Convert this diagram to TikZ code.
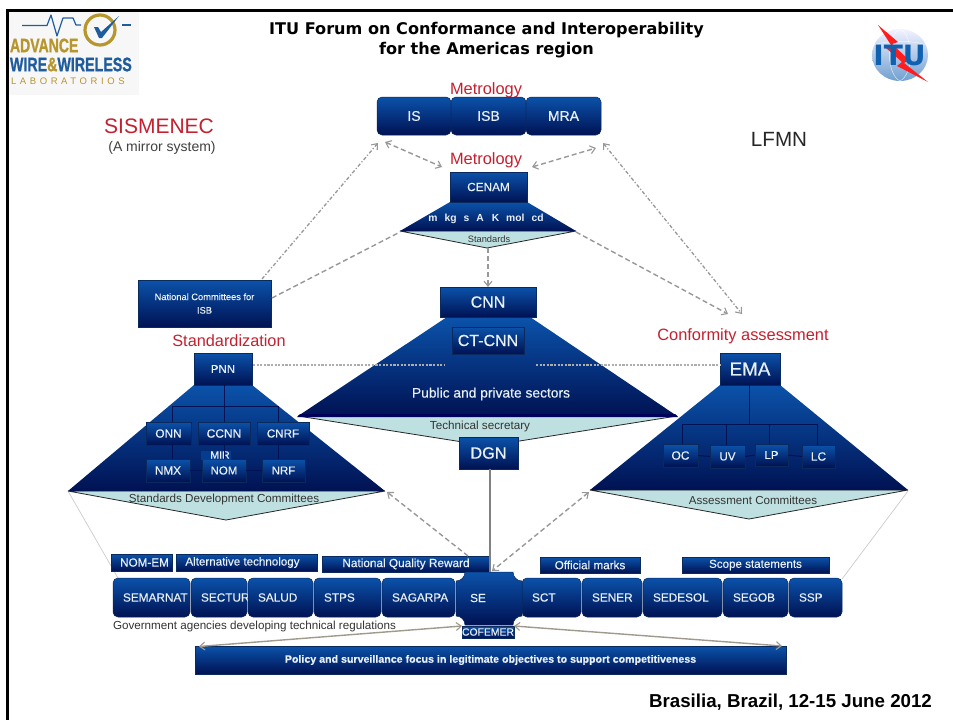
\documentclass[tikz,border=0pt]{standalone}
\usepackage{fontspec}
\setmainfont{Liberation Sans}
\newfontfamily\titlefont{DejaVu Sans}
\newfontfamily\labfont[LetterSpace=38]{Liberation Sans}
\newfontfamily\semifont[FakeBold=0.35]{Liberation Sans}
\newfontfamily\logofont[BoldFeatures={FakeBold=1.2}]{Liberation Sans}
\usetikzlibrary{arrows.meta,shadings}
\definecolor{bT}{HTML}{0B52AA}
\definecolor{bM}{HTML}{063C8E}
\definecolor{bB}{HTML}{001253}
\definecolor{edgeB}{HTML}{0A2A5E}
\definecolor{txtW}{HTML}{E8F0F8}
\definecolor{redL}{HTML}{C5202F}
\definecolor{tealL}{HTML}{BFE0E0}
\definecolor{conn}{HTML}{989898}
\definecolor{tan}{HTML}{A09A8C}
\definecolor{gold}{HTML}{B8962E}
\definecolor{logoB}{HTML}{1F5C9E}
\definecolor{ituB}{HTML}{1060B0}
\newcommand{\fz}[1]{\fontsize{#1}{#1}\selectfont}
\tikzset{
  x=1pt,y=-1pt,
  gshade/.style={top color=bT,middle color=bM,bottom color=bB},
  gb/.style={gshade,draw=edgeB,line width=.5pt,inner sep=0pt,text=txtW,align=center,outer sep=0pt,font=\semifont},
  rb/.style={gb,rounded corners=5pt},
  lab/.style={inner sep=0pt,outer sep=0pt,align=center},
  redlab/.style={lab,text=redL},
  darklab/.style={lab,text=black!80},
  dashc/.style={draw=conn,line width=1.4pt,dash pattern=on 5pt off 3pt},
  dotc/.style={draw=conn,line width=1.3pt,dash pattern=on 3.5pt off 2pt on 1.2pt off 2pt},
  finec/.style={draw=black!32,line width=1.3pt,dash pattern=on 2.2pt off 1.4pt},
  tipa/.style={-{Straight Barb[length=5pt,width=8pt,line width=1.1pt]}},
  tipb/.style={{Straight Barb[length=5pt,width=8pt,line width=1.1pt]}-{Straight Barb[length=5pt,width=8pt,line width=1.1pt]}},
  solidgov/.style={draw=tan,line width=1.4pt,tipb},
  thinl/.style={draw=black!20,line width=.7pt},
  org/.style={draw=bB,line width=1pt},
  pent/.style={fill=tealL,draw=black!85,line width=.8pt},
  trap/.style={gshade,draw=none},
}
% \gbox[style]{name}{x1}{y1}{x2}{y2}{font size}{text}
\newcommand{\gbox}[8][gb]{\pgfmathsetlengthmacro{\bw}{#5-(#3)}\pgfmathsetlengthmacro{\bh}{#6-(#4)}%
  \node[#1,minimum width=\bw,minimum height=\bh] (#2) at ({(#3+#5)/2},{(#4+#6)/2}) {\fz{#7}#8};}
% \rowbox{name}{x1}{x2}{text}: a row box with left-set text
\newcommand{\rowbox}[4]{\pgfmathsetlengthmacro{\bw}{#3-(#2)}%
  \node[rb,minimum width=\bw,minimum height=39pt] (#1) at ({(#2+#3)/2},597.5) {\makebox[\bw][l]{\hspace{10pt}\fz{11.8}#4}};}
% \pyramid{xTL}{xTR}{yT}{xBL}{xBR}{yB}{apex x}{apex y}
\newcommand{\pyramid}[8]{%
  \path[pent] (#4,#6) -- (#7,#8) -- (#5,#6) -- cycle;
  \path[trap] (#1,#3) -- (#2,#3) -- (#5,#6) -- (#4,#6) -- cycle;}
\begin{document}
\begin{tikzpicture}
\useasboundingbox (0,0) rectangle (953,720);
\fill[white] (0,0) rectangle (953,720);
% slide frame
\fill[black] (6,9) rectangle (953,12);
\fill[black] (6,9) rectangle (9,720);

% logo
\fill[black!3] (9,12) rectangle (139,95);
\draw[logoB,line width=1.2pt,line join=round] (22,25.5) -- (47,25.5) -- (51,15) -- (57,36) -- (63,18) -- (73,18) -- (76,25) -- (81,25);
\draw[logoB,line width=1.2pt] (122,25) -- (131,25);
\draw[gold,line width=3.2pt] (100,30) circle (15);
\path[fill=logoB] (94,27) -- (98,27) -- (101,32) -- (119,16) -- (102,38) -- (99,38) -- cycle;
\node[lab,text=gold,anchor=west] (advance) at (10,45.5) {\scalebox{.72}[1]{\logofont\fz{19.5}\bfseries ADVANCE}};
\node[lab,text=logoB,anchor=west] (wire) at (10,64.5) {\scalebox{.73}[1]{\logofont\fz{19.5}\bfseries WIRE{\color{gold}\&}WIRELESS}};
\node[lab,text=gold,anchor=west] (labor) at (11,81) {\labfont\fz{9.5}LABORATORIOS};

% ITU logo
\path[top color=blue!5!white,bottom color=ituB!60!white] (900,55) ellipse (28 and 26);
\draw[white,line width=.5pt,opacity=.7] (900,29) .. controls (914,36) and (914,74) .. (900,81);
\draw[white,line width=.5pt,opacity=.7] (900,29) .. controls (886,36) and (886,74) .. (900,81);
\draw[white,line width=.5pt,opacity=.7] (873,45) .. controls (890,40) and (910,40) .. (927,45);
\fill[red!85!pink] (878,25) -- (898,42) -- (892,44) -- (909,60) -- (904,63) -- (928,82) -- (897,66) -- (902,62) -- (886,48) -- (891,45) -- cycle;
\node[lab,text=ituB] (itu) at (899.5,55.5) {\titlefont\fz{28}\bfseries ITU};

% headings
\node[lab] (title) at (486.5,40) {\titlefont\fz{16.1}\bfseries ITU Forum on Conformance and Interoperability\\[3.9pt]\titlefont\fz{16.1}\bfseries for the Americas region};
\node[lab] (footer) at (790.5,702) {\fz{18.7}\bfseries Brasilia, Brazil, 12-15 June 2012};
\node[redlab] (sis) at (159,126) {\fz{21}SISMENEC};
\node[lab,text=black!75] (mirror) at (162,148) {\fz{14}(A mirror system)};
\node[lab,text=black!85] (lfmn) at (779,139) {\fz{20.6}LFMN};
\node[redlab] (metA) at (486,90) {\fz{16.4}Metrology};
\node[redlab] (metB) at (486,160) {\fz{16.4}Metrology};
\node[redlab] (stdz) at (229,341) {\fz{16.3}Standardization};
\node[redlab] (conf) at (743,336) {\fz{16.4}Conformity assessment};

% thin outer lines
\coordinate (lT) at (68,491);
\coordinate (rT) at (908,491);
\coordinate (lS) at (118,578);
\coordinate (rS) at (842,579);
\draw[thinl] (lT) -- (lS);
\draw[thinl] (rT) -- (rS);

% pyramids
\pyramid{450}{527}{202}{400}{576}{231}{487}{248}
\pyramid{447}{530}{317}{298}{677}{416}{488}{446}
\fill[black!40!blue!60!black] (300,414) -- (675,414) -- (678,417) -- (297,417) -- cycle;
\pyramid{194}{252}{385}{68}{385}{491}{226}{520}
\pyramid{720}{780}{385}{590}{908}{490}{749}{519}

% metrology boxes
\gbox[rb]{is}{377}{97}{451}{135}{14}{IS}
\gbox[rb]{isb}{451}{97}{526}{135}{14}{ISB}
\gbox[rb]{mra}{526}{97}{601}{135}{14}{MRA}
\gbox{cenam}{450}{172}{527}{202}{11.8}{CENAM}
\node[lab,text=txtW] (units) at (486,219) {\fz{10.3}\bfseries m\hspace{7pt}kg\hspace{7pt}s\hspace{7pt}A\hspace{8pt}K\hspace{7pt}mol\hspace{7pt}cd};
\node[darklab] (stdtxt) at (489,239) {\fz{9.3}Standards};
\gbox{natc}{138}{280}{271}{327}{9.3}{National Committees for\\[1.5pt]\fz{9.3}ISB}

% centre
\gbox{cnn}{440}{287}{536}{317}{16}{CNN}
\gbox{ctcnn}{452}{327}{524}{354}{16}{CT-CNN}
\node[lab,text=txtW,font=\semifont] (pub) at (491,394) {\fz{13.8}Public and private sectors};
\node[darklab] (tech) at (480,426) {\fz{11.7}Technical secretary};
\gbox{dgn}{459}{437}{518}{469}{16.3}{DGN}

% standardization
\gbox{pnn}{194}{353}{252}{385}{11.5}{PNN}
\coordinate (pj) at (224,406);
\coordinate (pjl) at (172,406);
\coordinate (pjr) at (278,406);
\gbox{onn}{146}{422}{191}{445}{11.8}{ONN}
\gbox{ccnn}{198}{422}{250}{445}{12}{CCNN}
\gbox{cnrf}{257}{422}{309}{445}{11.6}{CNRF}
\gbox{nmx}{146}{459}{190}{482}{11.7}{NMX}
\gbox{nom}{202}{459}{246}{482}{11.5}{NOM}
\gbox{nrf}{262}{459}{305}{482}{11.5}{NRF}
\fill[bM] (201,451) rectangle (231,460);
\node[lab,text=txtW,font=\semifont] (mir) at (220,455) {\fz{10.5}MIR};
\draw[org] (pnn.south -| pj) -- (pj);
\draw[org] (pjl) -- (pjr);
\draw[org] (pjl) -- (pjl |- onn.north);
\draw[org] (pj) -- (pj |- ccnn.north);
\draw[org] (pjr) -- (pjr |- cnrf.north);
\draw[org] (onn.south -| pjl) -- (nmx.north -| pjl);
\draw[org] (ccnn.south -| pj) -- (nom.north -| pj);
\draw[org] (cnrf.south -| pjr) -- (nrf.north -| pjr);
\draw[org] (nmx.east) -- (nom.west);
\draw[org] (nom.east) -- (nrf.west);
\node[darklab] (sdc) at (224,499.5) {\fz{11.65}Standards Development Committees};

% conformity
\gbox{ema}{720}{353}{780}{385}{18.8}{EMA}
\coordinate (ej) at (749,424);
\coordinate (ej1) at (682,424);
\coordinate (ej2) at (726,424);
\coordinate (ej3) at (769,424);
\coordinate (ej4) at (817,424);
\gbox{oc}{663}{444}{698}{467}{12}{OC}
\gbox{uv}{710}{445}{745}{468}{11.5}{UV}
\gbox{lp}{755}{444}{788}{466}{11.5}{LP}
\gbox{lc}{802}{445}{835}{468}{12}{LC}
\draw[org] (ema.south -| ej) -- (ej);
\draw[org] (ej1) -- (ej4);
\draw[org] (ej1) -- (ej1 |- oc.north);
\draw[org] (ej2) -- (ej2 |- uv.north);
\draw[org] (ej3) -- (ej3 |- lp.north);
\draw[org] (ej4) -- (ej4 |- lc.north);
\draw[org] (oc.east) -- (uv.west);
\draw[org] (uv.east) -- (lp.west);
\draw[org] (lp.east) -- (lc.west);
\node[darklab] (asc) at (753,500.5) {\fz{11.6}Assessment Committees};

% bottom labels
\gbox{nomem}{111}{554}{172}{571}{11.7}{\hspace{6pt}NOM-EM}
\gbox{alt}{176}{554}{317}{571}{11.6}{Alternative technology\hspace{8pt}}
\gbox{nqr}{322}{556}{490}{572}{11.8}{National Quality Reward}
\gbox{off}{540}{557}{640}{573}{11.7}{Official marks}
\gbox{scope}{682}{557}{829}{573}{11.6}{Scope statements}

% agency row
\rowbox{semarnat}{113}{190}{SEMARNAT}
\rowbox{sectur}{191}{247}{SECTUR}
\rowbox{salud}{248}{313}{SALUD}
\rowbox{stps}{314}{381}{STPS}
\rowbox{sagarpa}{382}{455}{SAGARPA}
\rowbox{sct}{522}{581}{SCT}
\rowbox{sener}{582}{642}{SENER}
\rowbox{sedesol}{643}{722}{SEDESOL}
\rowbox{segob}{723}{788}{SEGOB}
\rowbox{ssp}{789}{842}{SSP}
\path[gshade,draw=edgeB,line width=.5pt]
  (465,572) -- (513,572) .. controls (513,577) and (517,581) .. (522,581) -- (522,616)
  .. controls (517,616) and (513,620) .. (513,625) -- (465,625)
  .. controls (465,620) and (461,616) .. (456,616) -- (456,581)
  .. controls (461,581) and (465,577) .. (465,572) -- cycle;
\node[lab,text=txtW,font=\semifont] (se) at (478,598) {\fz{11.8}SE};
\gbox{cof}{464}{626}{512}{638}{10.4}{COFEMER}
\node[darklab,anchor=west] (gov) at (113,626) {\fz{11.65}Government agencies developing technical regulations};
\gbox{policy}{195}{646}{786}{674}{10.65}{\bfseries Policy and surveillance focus in legitimate objectives to support competitiveness}

% connectors
\coordinate (isL) at (385,142);
\coordinate (cenL) at (442,167);
\coordinate (cenR) at (532,167);
\coordinate (mraR) at (596,148);
\coordinate (isF) at (378,143);
\coordinate (mraF) at (603,143);
\coordinate (trapL) at (400,232);
\coordinate (trapR) at (576,232);
\coordinate (stdA) at (488,248);
\coordinate (conA) at (728,314);
\coordinate (conB) at (742,314);
\coordinate (natT) at (262,279);
\coordinate (natR) at (272,298);
\coordinate (pnnE) at (253,365);
\coordinate (pnnX) at (445,365);
\coordinate (emaX) at (536,365);
\coordinate (emaW) at (720,365);
\coordinate (sdcR) at (387,492);
\coordinate (nqrT) at (468,556);
\coordinate (ascL) at (589,492);
\coordinate (seT) at (492,571);
\coordinate (dgnE) at (489.5,572);
\coordinate (govA) at (199,646.5);
\coordinate (govB) at (782,646);
\draw[dashc,tipb] (isL) -- (cenL);
\draw[dashc,tipb] (cenR) -- (mraR);
\draw[dotc,tipa] (natT) -- (isF);
\draw[dashc] (natR) -- (trapL);
\draw[dashc,tipa] (trapR) -- (conA);
\draw[dotc,tipb] (mraF) -- (conB);
\draw[dashc,tipa] (stdA) -- (cnn.north);
\draw[finec] (pnnE) -- (pnnX);
\draw[finec] (emaX) -- (emaW);
\draw[dashc,tipa] (nqrT) -- (sdcR);
\draw[dashc,tipb] (ascL) -- (seT);
\draw[draw=conn!85!black,line width=2pt] (dgn.south -| dgnE) -- (dgnE);
\draw[solidgov] (govA) -- (cof.north west);
\draw[solidgov] (cof.north east) -- (govB);
\end{tikzpicture}
\end{document}
